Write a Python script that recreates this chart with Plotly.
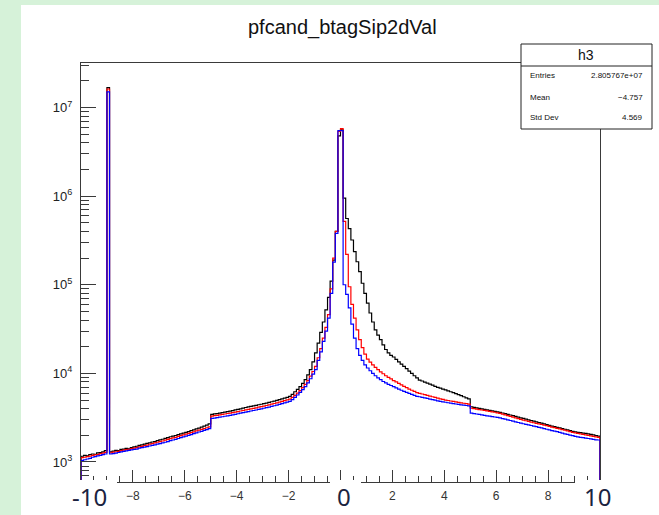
import numpy as np
import plotly.graph_objects as go

TITLE = "pfcand_btagSip2dVal"
BIN_LO, BIN_HI, NBINS = -10.0, 10.0, 200

# bin contents, one row per unit of x (10 bins of width 0.1)
BLACK = [
    1160, 1185, 1170, 1215, 1230, 1220, 1265, 1280, 1300, 1345,
    16800000, 1300, 1325, 1350, 1340, 1385, 1400, 1425, 1410, 1455,
    1480, 1505, 1540, 1560, 1590, 1620, 1645, 1680, 1700, 1745,
    1780, 1805, 1850, 1880, 1925, 1960, 1990, 2035, 2080, 2120,
    2160, 2205, 2260, 2300, 2365, 2410, 2470, 2535, 2600, 2690,
    3450, 3485, 3520, 3565, 3600, 3655, 3700, 3745, 3800, 3865,
    3920, 3985, 4050, 4120, 4185, 4240, 4305, 4360, 4425, 4480,
    4550, 4625, 4700, 4785, 4860, 4955, 5050, 5150, 5255, 5370,
    5500, 5800, 6200, 6600, 7100, 7700, 8500, 9600, 11000, 13500,
    17000, 22000, 29000, 38000, 52000, 72000, 110000, 190000, 400000, 4800000,
    5600000, 950000, 560000, 430000, 320000, 237000, 182000, 141000, 104000, 80000,
    62000, 48000, 38000, 31000, 27000, 24000, 21000, 18600, 17000, 16000,
    15300, 14400, 13500, 12700, 12000, 11300, 10600, 10000, 9400, 8900,
    8400, 8200, 7950, 7750, 7550, 7350, 7150, 6950, 6800, 6650,
    6500, 6350, 6200, 6050, 5900, 5750, 5600, 5450, 5300, 5150,
    4200, 4140, 4080, 4020, 3970, 3920, 3870, 3820, 3770, 3720,
    3680, 3630, 3570, 3510, 3450, 3390, 3330, 3270, 3210, 3150,
    3100, 3040, 2990, 2940, 2890, 2840, 2790, 2740, 2690, 2640,
    2590, 2540, 2500, 2460, 2420, 2380, 2340, 2300, 2260, 2220,
    2190, 2160, 2140, 2120, 2100, 2080, 2050, 2020, 1990, 1960,
]

RED = [
    1120, 1130, 1150, 1165, 1190, 1200, 1215, 1240, 1260, 1285,
    16200000, 1270, 1290, 1305, 1320, 1345, 1360, 1380, 1390, 1415,
    1430, 1455, 1480, 1500, 1535, 1550, 1585, 1610, 1640, 1670,
    1700, 1725, 1760, 1800, 1830, 1875, 1900, 1945, 1980, 2020,
    2060, 2100, 2145, 2190, 2240, 2290, 2335, 2380, 2435, 2490,
    3300, 3330, 3365, 3400, 3440, 3480, 3525, 3560, 3605, 3650,
    3700, 3760, 3810, 3870, 3925, 3980, 4035, 4090, 4150, 4210,
    4270, 4340, 4410, 4490, 4570, 4650, 4740, 4830, 4920, 5020,
    5120, 5350, 5650, 6000, 6400, 6900, 7500, 8300, 9300, 10500,
    12000, 15000, 19000, 25000, 33000, 46000, 90000, 200000, 400000, 5400000,
    5800000, 520000, 220000, 95000, 60000, 42000, 31000, 24000, 19500, 16500,
    14500, 13400, 12500, 11700, 11000, 10400, 9900, 9400, 9000, 8650,
    8300, 8000, 7700, 7400, 7150, 6900, 6650, 6450, 6250, 6050,
    5950, 5850, 5750, 5650, 5550, 5450, 5350, 5250, 5150, 5080,
    5000, 4940, 4880, 4820, 4760, 4700, 4650, 4600, 4550, 4500,
    4050, 4000, 3950, 3900, 3860, 3820, 3770, 3720, 3680, 3640,
    3590, 3530, 3460, 3400, 3330, 3270, 3200, 3140, 3080, 3020,
    2970, 2920, 2870, 2820, 2770, 2730, 2690, 2650, 2610, 2570,
    2520, 2480, 2440, 2400, 2360, 2320, 2280, 2240, 2200, 2160,
    2130, 2100, 2080, 2050, 2020, 2000, 1970, 1950, 1920, 1900,
]

BLUE = [
    1040, 1060, 1080, 1100, 1130, 1150, 1170, 1190, 1210, 1230,
    15000000, 1230, 1245, 1260, 1280, 1300, 1320, 1335, 1350, 1370,
    1390, 1400, 1430, 1450, 1470, 1490, 1515, 1540, 1560, 1590,
    1610, 1640, 1670, 1700, 1740, 1770, 1800, 1840, 1880, 1920,
    1960, 2000, 2040, 2090, 2130, 2180, 2220, 2270, 2320, 2380,
    3100, 3130, 3160, 3200, 3240, 3280, 3320, 3360, 3400, 3450,
    3500, 3550, 3600, 3650, 3700, 3760, 3810, 3860, 3920, 3980,
    4040, 4100, 4170, 4240, 4310, 4390, 4470, 4550, 4640, 4730,
    4830, 5050, 5350, 5700, 6100, 6550, 7100, 7800, 8700, 9800,
    11000, 14000, 17500, 23000, 30000, 42000, 80000, 180000, 380000, 5500000,
    5500000, 100000, 78000, 55000, 36000, 25000, 19000, 16000, 14000, 12500,
    11500, 10700, 10000, 9400, 8900, 8500, 8100, 7800, 7500, 7300,
    7100, 6850, 6650, 6450, 6250, 6100, 5950, 5800, 5650, 5500,
    5450, 5370, 5290, 5210, 5130, 5050, 4980, 4900, 4830, 4780,
    4720, 4660, 4610, 4560, 4510, 4460, 4420, 4380, 4340, 4300,
    3550, 3520, 3480, 3440, 3400, 3360, 3320, 3290, 3250, 3220,
    3180, 3140, 3090, 3040, 2990, 2940, 2890, 2840, 2790, 2740,
    2700, 2660, 2620, 2580, 2540, 2500, 2460, 2420, 2380, 2340,
    2300, 2260, 2230, 2200, 2160, 2120, 2080, 2050, 2010, 1980,
    1950, 1920, 1900, 1880, 1860, 1840, 1820, 1800, 1780, 1770,
]

STATS_NAME = "h3"
STATS_LABELS = ["Entries", "Mean", "Std Dev"]
STATS_VALUES = ["2.805767e+07", "\u22124.757", "4.569"]

X_TICKS = [-10, -8, -6, -4, -2, 0, 2, 4, 6, 8, 10]
X_TICK_TEXT = [" ", "\u22128", "\u22126", "\u22124", "\u22122", " ", "2", "4", "6", "8", " "]
BIG_LABELS = ["-10", "0", "10"]
Y_DECADES = [1e3, 1e4, 1e5, 1e6, 1e7]
Y_TICK_TEXT = ["10<sup>3</sup>", "10<sup>4</sup>", "10<sup>5</sup>", "10<sup>6</sup>", "10<sup>7</sup>"]

# ---------------- layout geometry (pixels) ----------------
W, H = 659, 515
ML, MR, MT, MB = 81, 59, 63, 33
PW, PH = W - ML - MR, H - MT - MB


def px(x):
    return (x - ML) / PW


def py(y):
    return (H - MB - y) / PH


edges = np.linspace(BIN_LO, BIN_HI, NBINS + 1)
BASE = 1.0  # below the visible log range: closes the outline at the ends

fig = go.Figure()
for vals, col in [(BLACK, "#000000"), (RED, "#ff0000"), (BLUE, "#0000ff")]:
    xs = np.concatenate([[edges[0]], edges])
    ys = np.concatenate([[BASE], np.asarray(vals, float), [BASE]])
    fig.add_trace(go.Scatter(x=xs, y=ys, mode="lines", line=dict(color=col, width=1.2, shape="hv"),
                             showlegend=False, hoverinfo="skip"))

axis_col = "#3a3a3a"
minor_y = [k * 10 ** d for d in range(2, 8) for k in range(2, 10)]

fig.update_layout(
    width=W, height=H,
    margin=dict(l=ML, r=MR, t=MT, b=MB, pad=0),
    paper_bgcolor="#d6f2d9",
    plot_bgcolor="white",
    font=dict(family="Liberation Sans, Arial, sans-serif", color="#000000"),
    xaxis=dict(range=[BIN_LO, BIN_HI], showgrid=False, zeroline=False,
               showline=True, linecolor=axis_col, linewidth=1, mirror=True,
               tickmode="array", tickvals=X_TICKS, ticktext=X_TICK_TEXT,
               ticks="inside", ticklen=12, tickwidth=1, tickcolor=axis_col,
               tickfont=dict(size=12, color="#333"), ticklabelstandoff=3,
               minor=dict(ticks="inside", ticklen=6, tickwidth=1, tickcolor=axis_col,
                          dtick=0.5, tick0=0, showgrid=False)),
    yaxis=dict(type="log", range=[2.774, 7.503], showgrid=False, zeroline=False,
               showline=True, linecolor=axis_col, linewidth=1, mirror=True,
               tickmode="array", tickvals=Y_DECADES, ticktext=Y_TICK_TEXT,
               ticks="inside", ticklen=15, tickwidth=1, tickcolor=axis_col,
               tickfont=dict(size=13, color="#222"), ticklabelstandoff=5,
               minor=dict(ticks="inside", ticklen=8, tickwidth=1, tickcolor=axis_col,
                          tickmode="array", tickvals=minor_y, showgrid=False)),
)

shapes = [
    # white slide panel
    dict(type="rect", xref="paper", yref="paper", x0=px(21), x1=px(W + 5), y0=py(H + 5), y1=py(5),
         fillcolor="white", line=dict(width=0), layer="below"),
    # white boxes under the big axis labels
    dict(type="rect", xref="paper", yref="paper", x0=px(68), x1=px(117), y0=py(H + 5), y1=py(480),
         fillcolor="white", line=dict(width=0), layer="above"),
    dict(type="rect", xref="paper", yref="paper", x0=px(330), x1=px(361), y0=py(H + 5), y1=py(480),
         fillcolor="white", line=dict(width=0), layer="above"),
    dict(type="rect", xref="paper", yref="paper", x0=px(575), x1=px(616), y0=py(H + 5), y1=py(480),
         fillcolor="white", line=dict(width=0), layer="above"),
    # stats box
    dict(type="rect", xref="paper", yref="paper", x0=px(521), x1=px(652), y0=py(129), y1=py(44),
         fillcolor="white", line=dict(color="#222", width=1), layer="above"),
    dict(type="line", xref="paper", yref="paper", x0=px(521), x1=px(652), y0=py(66), y1=py(66),
         line=dict(color="#222", width=1), layer="above"),
]
fig.update_layout(shapes=shapes)

ann = [
    dict(text=TITLE, x=px(342), y=py(27), font=dict(size=20, color="#111")),
    dict(text=STATS_NAME, x=px(586), y=py(55), font=dict(size=14, color="#111")),
]
for lab, val, yy in zip(STATS_LABELS, STATS_VALUES, [75, 97, 118]):
    ann.append(dict(text=lab, x=px(528), y=py(yy), xanchor="left", font=dict(size=8, color="#111")))
    ann.append(dict(text=val, x=px(645), y=py(yy), xanchor="right", font=dict(size=8, color="#111")))
for lab, xx in zip(BIG_LABELS, [89, 344, 597]):
    ann.append(dict(text=lab, x=px(xx), y=py(496),
                    font=dict(size=24, color="#1a2340", family="Noto Sans, Open Sans, sans-serif")))

for a in ann:
    a.setdefault("xanchor", "center")
    a.update(xref="paper", yref="paper", yanchor="middle", showarrow=False)
fig.update_layout(annotations=ann)

fig.write_html("out.html", config={"displayModeBar": False},
               post_script="document.body.style.margin='0';document.body.style.overflow='hidden';")
